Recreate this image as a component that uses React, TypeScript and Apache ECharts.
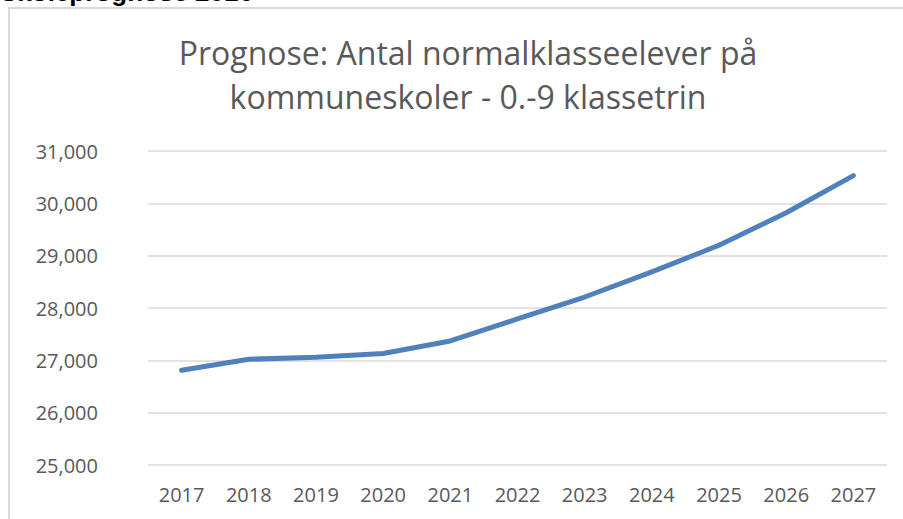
import React, { useEffect, useRef } from "react";
import * as echarts from "echarts";

const years = ["2017", "2018", "2019", "2020", "2021", "2022", "2023", "2024", "2025", "2026", "2027"];
const pupils = [26810, 27020, 27060, 27130, 27370, 27790, 28210, 28690, 29200, 29820, 30530];
const titleLines = ["Prognose: Antal normalklasseelever på", "kommuneskoler - 0.-9 klassetrin"];
const pageHeading = "Skoleprognose 2016";

export default function App() {
  const ref = useRef<HTMLDivElement>(null);
  useEffect(() => {
    if (!ref.current) return;
    const chart = echarts.init(ref.current, null, { renderer: "svg" });
    chart.setOption({
      animation: false,
      backgroundColor: "#ffffff",
      title: {
        text: titleLines.join("\n"),
        left: 463,
        textAlign: "center",
        top: 25,
        textStyle: {
          fontFamily: "Open Sans",
          fontSize: 32,
          fontWeight: "normal",
          color: "#595959",
          lineHeight: 44,
        },
      },
      graphic: [
        {
          type: "rect",
          shape: { x: 9, y: 8, width: 920, height: 540 },
          style: { fill: "none", stroke: "#d9d9d9", lineWidth: 2 },
          silent: true,
        },
        {
          type: "text",
          x: 0,
          y: 5,
          style: {
            text: pageHeading,
            fontFamily: "Liberation Sans",
            fontWeight: "bold",
            fontSize: 26,
            fill: "#000000",
            verticalAlign: "bottom",
          },
        },
      ],
      grid: { left: 148, right: 16, top: 151, bottom: 54 },
      xAxis: {
        type: "category",
        data: years,
        boundaryGap: true,
        axisLine: { show: false },
        axisTick: { show: false },
        axisLabel: {
          color: "#595959",
          fontFamily: "Open Sans",
          fontSize: 20,
          margin: 19,
        },
      },
      yAxis: {
        type: "value",
        min: 25000,
        max: 31000,
        interval: 1000,
        axisLine: { show: false },
        axisTick: { show: false },
        splitLine: { lineStyle: { color: "#d9d9d9", width: 1.5 } },
        axisLabel: {
          color: "#595959",
          fontFamily: "Open Sans",
          fontSize: 20,
          margin: 50,
          formatter: (v: number) => v.toLocaleString("en-US"),
        },
      },
      series: [
        {
          type: "line",
          data: pupils,
          showSymbol: false,
          symbol: "none",
          lineStyle: { color: "#4f81bd", width: 5, cap: "round", join: "round" },
        },
      ],
    });
    return () => chart.dispose();
  }, []);
  return (
    <div
      ref={ref}
      style={{ position: "absolute", left: 0, top: 0, width: 903, height: 519 }}
    />
  );
}
